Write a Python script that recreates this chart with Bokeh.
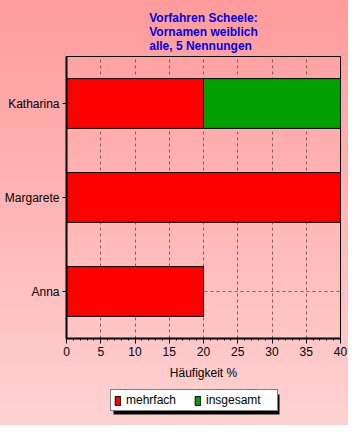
from bokeh.plotting import figure
from bokeh.layouts import column
from bokeh.models import Legend, LegendItem, Range1d, FactorRange, FixedTicker, BoxAnnotation
from bokeh.embed import file_html
from bokeh.resources import INLINE

names = ["Anna", "Margarete", "Katharina"]
mehrfach = [20, 40, 20]
insgesamt = [0, 0, 20]
xticks = [0, 5, 10, 15, 20, 25, 30, 35, 40]
series_labels = ["mehrfach", "insgesamt"]
series_colors = ["#ff0000", "#00a000"]
title_text = "Vorfahren Scheele:\nVornamen weiblich\nalle, 5 Nennungen"

p = figure(width=348, height=385, y_range=FactorRange(*names), x_range=Range1d(0, 40),
           output_backend="svg", toolbar_location=None,
           min_border_left=66, min_border_right=8, min_border_top=56, min_border_bottom=47)
p.border_fill_alpha = 0
p.background_fill_alpha = 0
p.outline_line_color = "black"
p.outline_line_width = 1

p.title.text = title_text
p.title.align = "center"
p.title.text_color = "#0000ee"
p.title.text_font = "Liberation Sans"
p.title.text_font_style = "bold"
p.title.text_font_size = "12px"
p.title.text_line_height = 1.0
p.title.standoff = 7

data = dict(names=names, mehrfach=mehrfach, insgesamt=insgesamt)
r = p.hbar_stack(["mehrfach", "insgesamt"], y="names", height=0.53, source=data,
                 color=series_colors, line_color="black", line_width=1)

p.xaxis.ticker = FixedTicker(ticks=xticks, minor_ticks=list(range(0, 41)))
p.xaxis.axis_label = "Häufigkeit %"
for ax in (p.xaxis, p.yaxis):
    ax.axis_line_width = 2
    ax.axis_line_color = "black"
    ax.major_tick_line_color = "black"
    ax.major_label_text_font = "Liberation Sans"
    ax.major_label_text_font_size = "12px"
    ax.major_label_text_color = "black"
p.xaxis.major_tick_out = 5
p.xaxis.major_tick_in = 0
p.xaxis.minor_tick_out = 2
p.xaxis.minor_tick_in = 0
p.xaxis.minor_tick_line_color = "black"
p.xaxis.major_label_standoff = 3
p.xaxis.axis_label_text_font = "Liberation Sans"
p.xaxis.axis_label_text_font_size = "12px"
p.xaxis.axis_label_text_font_style = "normal"
p.xaxis.axis_label_text_color = "black"
p.xaxis.axis_label_standoff = 7
p.yaxis.major_tick_out = 4
p.yaxis.major_tick_in = 0
p.yaxis.major_label_standoff = 3

p.xgrid.grid_line_color = "#8a5a5a"
p.xgrid.grid_line_dash = "3 3"
p.ygrid.grid_line_color = "#8a5a5a"
p.ygrid.grid_line_dash = "3 3"

# legend strip below the chart (its frame aligns with the chart frame: 274 px wide)
p2 = figure(width=348, height=40, x_range=Range1d(0, 274), y_range=Range1d(0, 40),
            x_axis_type=None, y_axis_type=None, output_backend="svg", toolbar_location=None,
            min_border_left=66, min_border_right=8, min_border_top=0, min_border_bottom=0)
p2.border_fill_alpha = 0
p2.background_fill_alpha = 0
p2.outline_line_color = None
p2.grid.visible = False
# legend swatch proxies, placed outside the visible range so only their legend glyphs show
proxies = [p2.quad(left=[-20], right=[-10], bottom=[-20], top=[-10],
                   fill_color=c, line_color="black", line_width=1)
           for c in series_colors]
p2.add_layout(BoxAnnotation(left=47, right=213, top=31, bottom=11,
                            fill_color="black", fill_alpha=1, line_color=None))
legend = Legend(items=[LegendItem(label=lab, renderers=[d]) for lab, d in zip(series_labels, proxies)],
                orientation="horizontal", location=(44, 14))
legend.border_line_color = "black"
legend.border_line_width = 1
legend.background_fill_color = "white"
legend.background_fill_alpha = 1
legend.label_text_font = "Liberation Sans"
legend.label_text_font_size = "12px"
legend.label_text_color = "black"
legend.glyph_width = 7
legend.glyph_height = 11
legend.label_height = 14
legend.label_width = 68
legend.padding = 3
legend.spacing = 0
legend.margin = 0
legend.label_standoff = 5
p2.add_layout(legend, "center")

layout = column(p, p2, spacing=0,
                styles={"background": "linear-gradient(to bottom, #ff9b9b 0%, #ffd2d2 100%)"})

open("out.html", "w").write(file_html(layout, INLINE))
